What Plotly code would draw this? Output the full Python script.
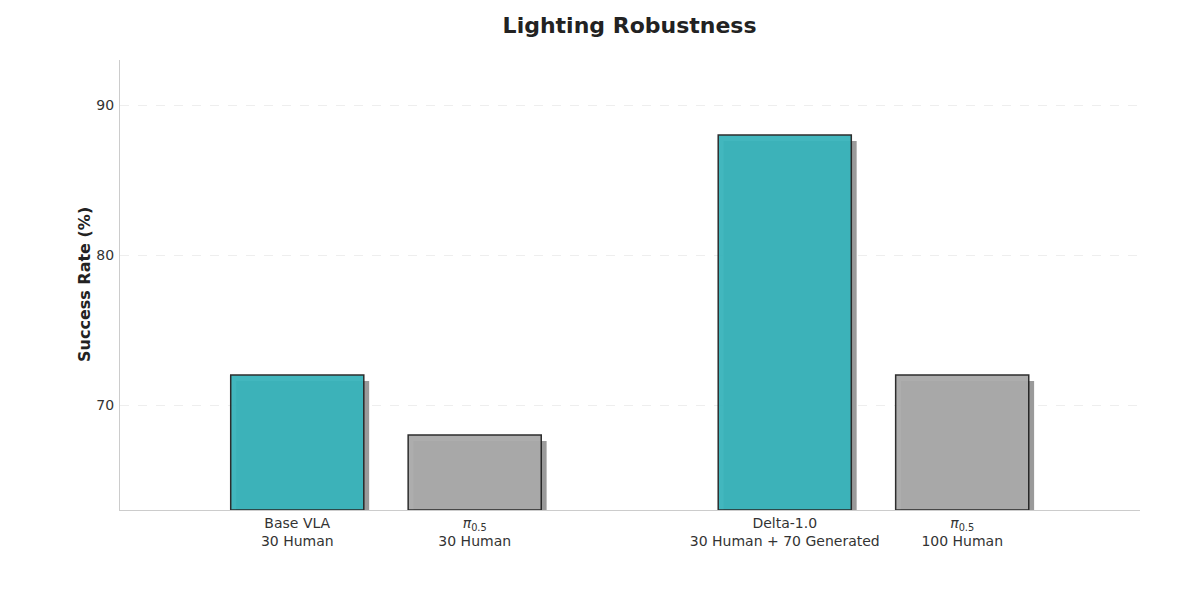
import plotly.graph_objects as go

# values
labels = ["Base VLA<br>30 Human", "<i>π</i><sub>0.5</sub><br>30 Human",
          "Delta-1.0<br>30 Human + 70 Generated", "<i>π</i><sub>0.5</sub><br>100 Human"]
success = [72, 68, 88, 72]
colors = ["#38b4bb", "#a9a9a9", "#38b4bb", "#a9a9a9"]
positions = [-0.182, 0.182, 0.818, 1.182]

y_floor = 63
shadow_dx = 0.011
shadow_dy = 0.4

fig = go.Figure()

# soft drop shadow behind each bar
fig.add_trace(go.Bar(
    x=[p + shadow_dx for p in positions],
    y=[v - y_floor - shadow_dy for v in success],
    base=y_floor,
    width=0.273,
    marker=dict(color="rgba(120,120,120,0.75)", line=dict(width=0)),
    showlegend=False, hoverinfo="skip",
))

fig.add_trace(go.Bar(
    x=positions,
    y=[v - y_floor for v in success],
    base=y_floor,
    width=0.273,
    marker=dict(color=colors, opacity=0.95, line=dict(color="#222222", width=1.5)),
    showlegend=False,
    hovertemplate="%{customdata}%<extra></extra>",
    customdata=success,
))

# the page body has an 8px margin, so the figure is sized to fit inside it
fig.update_layout(
    barmode="overlay",
    width=1184, height=584,
    plot_bgcolor="white", paper_bgcolor="white",
    font=dict(family="DejaVu Sans", size=14, color="#333333"),
    title=dict(text="<b>Lighting Robustness</b>", x=0.525, xanchor="center",
               y=0.971, yanchor="middle", font=dict(size=22, color="#222222")),
    margin=dict(l=112, r=52, t=52, b=82),
)
fig.add_annotation(
    text="<b>Success Rate (%)</b>", textangle=-90,
    xref="paper", yref="paper", x=0, y=0.5, xanchor="center", yanchor="middle",
    xshift=-36, showarrow=False, font=dict(size=16, color="#222222"),
)
fig.update_xaxes(
    range=[-0.5456, 1.5467],
    tickvals=positions, ticktext=labels,
    showline=True, linecolor="#cccccc", linewidth=1.2,
    showgrid=False, zeroline=False, ticks="", ticklen=0,
    tickfont=dict(size=14, color="#333333"),
)
fig.update_yaxes(
    range=[63, 93],
    tickvals=[70, 80, 90],
    showline=True, linecolor="#cccccc", linewidth=1.2,
    showgrid=True, gridcolor="#eeeeee", griddash="dash", gridwidth=1,
    zeroline=False, ticks="", ticklen=0, ticklabelstandoff=2,
    tickfont=dict(size=14, color="#333333"),
)

fig.write_html("out.html")
